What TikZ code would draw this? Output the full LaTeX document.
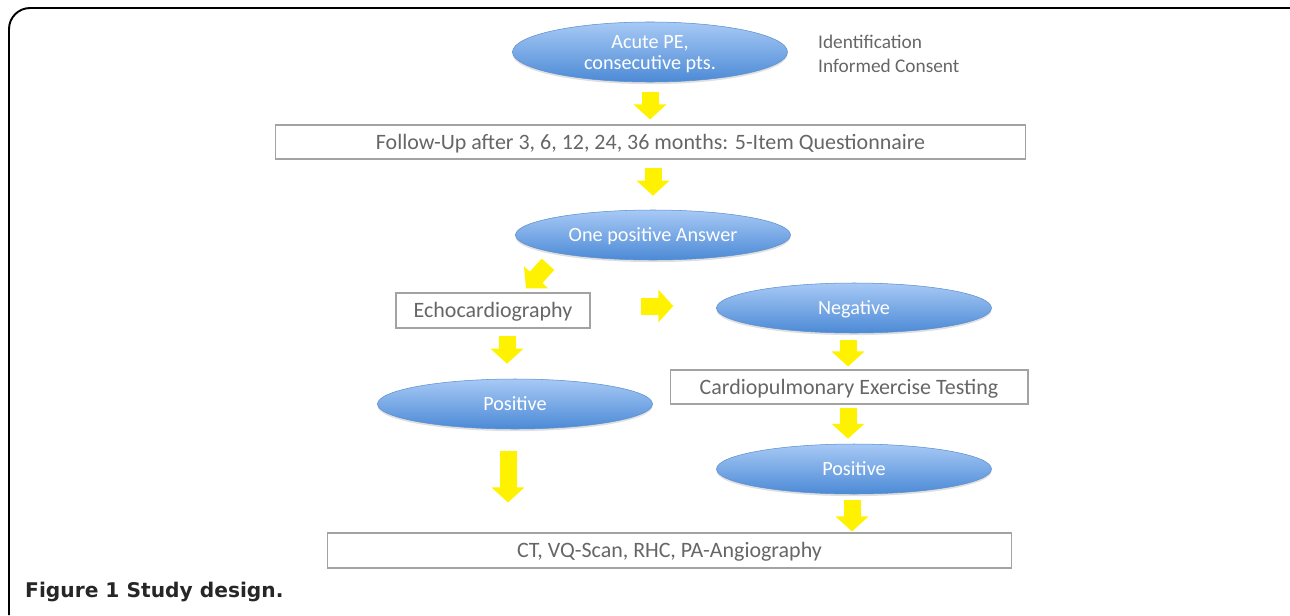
\documentclass[tikz,border=0pt]{standalone}
\usepackage{fontspec}
\setmainfont{Carlito}
\newfontfamily\capfont{DejaVu Sans}
\usepackage{tikz}
\usetikzlibrary{arrows.meta,shapes.geometric,shadows}
\definecolor{ellTop}{HTML}{A7C9F5}
\definecolor{ellBot}{HTML}{4C8AD6}
\definecolor{ellEdge}{HTML}{5B8FCF}
\definecolor{boxEdge}{HTML}{A3A3A3}
\definecolor{txtGray}{HTML}{666666}
\tikzset{
  oval/.style={ellipse, minimum width=5.5cm, minimum height=1cm, inner sep=0pt,
    top color=ellTop, bottom color=ellBot, draw=ellEdge, line width=0.3pt,
    text=white, font=\fontsize{11.5}{12.3}\selectfont, align=center,
    text height=9.2pt, text depth=2pt,
    drop shadow={shadow xshift=0pt, shadow yshift=-1.2pt, opacity=0.25}},
  stepbox/.style={rectangle, draw=boxEdge, line width=0.6pt, inner sep=0pt,
    text=txtGray, font=\fontsize{12.5}{14}\selectfont,
    text height=10pt, text depth=2pt},
  yarrow/.style={draw=yellow, line width=0.34cm,
    -{Triangle[length=0.3cm 0 0, width=0.64cm 0 0]}}
}
\begin{document}
\begin{tikzpicture}[x=0.02cm, y=-0.02cm]
			%%%%% START %%%%%
			\useasboundingbox (0,0) rectangle (1290,615);
			\draw[line width=1.1pt, rounded corners=12] (9,615) -- (9,8) -- (1290,8);
			
			\node[oval, text height=, text depth=] (acute) at (650,52) {\rule{0pt}{10pt}Acute PE,\\consecutive pts.};
			\node[anchor=north west, text=txtGray, align=left, font=\fontsize{11}{13.6}\selectfont]
			  (ident) at (812,29) {Identification\\Informed Consent};
			
			\node[stepbox, minimum width=15.02cm, minimum height=0.68cm] (follow) at (650.5,142)
			  {Follow-Up after 3, 6, 12, 24, 36 months: 5-Item Questionnaire};
			\node[oval] (answer) at (653,235) {One positive Answer};
			
			\node[stepbox, minimum width=3.88cm, minimum height=0.7cm] (echo) at (493,310.5) {Echocardiography};
			\node[oval] (posL) at (515,404) {Positive};
			
			\node[oval] (neg) at (854,308) {Negative};
			\node[stepbox, minimum width=7.16cm, minimum height=0.68cm] (cpet) at (849,387)
			  {Cardiopulmonary Exercise Testing};
			\node[oval] (posR) at (854,469) {Positive};
			
			\node[stepbox, minimum width=13.7cm, minimum height=0.7cm] (ct) at (669.5,550.5)
			  {CT, VQ-Scan, RHC, PA-Angiography};
			
			% yellow block arrows
			\draw[yarrow] ([shift={(0,10)}]acute.south) -- ([shift={(0,-5)}]acute.south |- follow.north);
			\draw[yarrow] ([shift={(0,8)}]answer.north |- follow.south) -- ([shift={(0,-14)}]answer.north);
			\draw[yarrow] ([shift={(-105,4)}]answer.south) -- ([shift={(33,-4)}]echo.north);
			\draw[yarrow] ([shift={(50,-4.5)}]echo.east) -- ([shift={(-43,-2)}]neg.west);
			\draw[yarrow] ([shift={(14,7)}]echo.south) -- ([shift={(-8,-15)}]posL.north);
			\draw[yarrow] ([shift={(-7,22)}]posL.south) -- ([shift={(-161.5,-30)}]ct.north);
			\draw[yarrow] ([shift={(-6,7)}]neg.south) -- ([shift={(-1,-3)}]cpet.north);
			\draw[yarrow] ([shift={(-1,3)}]cpet.south) -- ([shift={(-6,-5)}]posR.north);
			\draw[yarrow] ([shift={(-2,6)}]posR.south) -- ([shift={(-2,-1)}]posR.south |- ct.north);
			
			\node[anchor=west, font=\capfont\bfseries\fontsize{11.5}{13}\selectfont, text=black!85] (caption) at (19,592)
			  {Figure 1 Study design.};
			%%%%% END %%%%%
\end{tikzpicture}
\end{document}
